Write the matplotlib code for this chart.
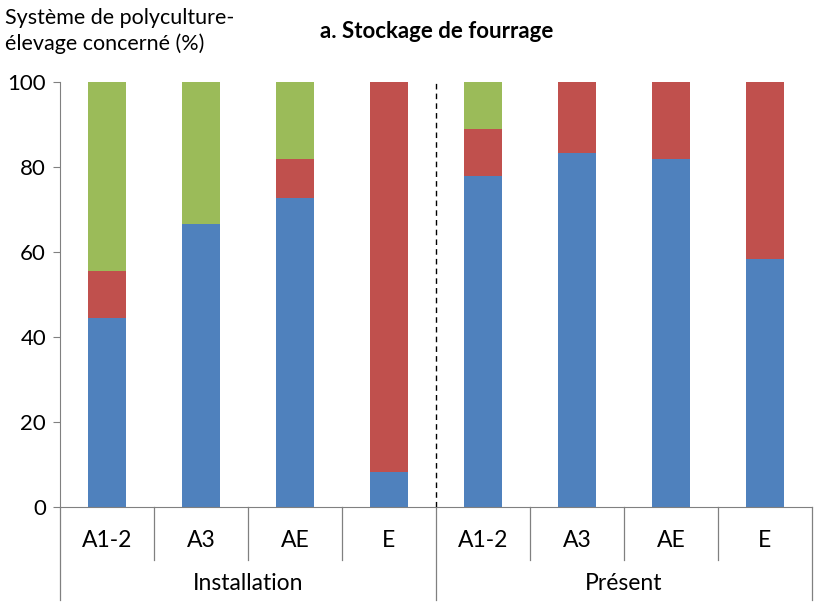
import matplotlib
matplotlib.use("Agg")
import matplotlib.pyplot as plt
import numpy as np

plt.rcParams['font.family'] = ['Lato', 'DejaVu Sans']

groups = ["Installation", "Présent"]
categories = ["A1-2", "A3", "AE", "E", "A1-2", "A3", "AE", "E"]
blue_vals = [44.4, 66.7, 72.7, 8.3, 77.8, 83.3, 81.8, 58.3]
red_vals = [11.1, 0.0, 9.1, 91.7, 11.1, 16.7, 18.2, 41.7]
green_vals = [44.4, 33.3, 18.2, 0.0, 11.1, 0.0, 0.0, 0.0]
yticks = [0, 20, 40, 60, 80, 100]

c_blue = "#4F81BD"
c_red = "#C0504D"
c_green = "#9BBB59"

fig = plt.figure(figsize=(8.18, 6.08), dpi=100)
ax = fig.add_axes([60/818, (608-507)/608, (812-60)/818, (507-82)/608])

x = np.arange(len(categories))
b = np.array(blue_vals)
r = np.array(red_vals)
g = np.array(green_vals)
ax.bar(x, b, width=0.4, color=c_blue, zorder=2)
ax.bar(x, r, width=0.4, bottom=b, color=c_red, zorder=2)
ax.bar(x, g, width=0.4, bottom=b + r, color=c_green, zorder=2)

ax.set_xlim(-0.5, len(categories) - 0.5)
ax.set_ylim(0, 100)
ax.set_yticks(yticks)
ax.set_yticklabels([str(t) for t in yticks], fontsize=16)
ax.tick_params(axis='y', direction='out', length=5, color='#808080', pad=5)
ax.set_xticks([])

for s in ['top', 'right']:
    ax.spines[s].set_visible(False)
ax.spines['left'].set_color('#808080')
ax.spines['bottom'].set_color('#808080')

# dashed divider between groups
ax.axvline(3.5, color='black', linestyle=(0, (4, 3)), linewidth=1.0, zorder=3)

# multi-level category axis
tr = ax.get_xaxis_transform()
for k in range(len(categories)):
    ax.text(x[k], -0.078, categories[k], transform=tr, ha='center', va='center', fontsize=16.5)
for k in range(len(categories) + 1):
    pos = k - 0.5
    if k % 4 == 0:
        y_end = -0.219
    else:
        y_end = -0.125
    ax.plot([pos, pos], [0, y_end], transform=tr, color='#808080', linewidth=0.9, clip_on=False)
for gi, name in enumerate(groups):
    ax.text(gi * 4 + 1.5, -0.179, name, transform=tr, ha='center', va='center', fontsize=16.5)

fig.text(5/818, 1 - 18/608, "Système de polyculture-", ha='left', va='center', fontsize=15.5)
fig.text(5/818, 1 - 44/608, "élevage concerné (%)", ha='left', va='center', fontsize=15.5)
fig.text(437/818, 1 - 32/608, "a. Stockage de fourrage", ha='center', va='center',
         fontsize=16, fontweight='bold')

fig.savefig("out.png", dpi=100)
